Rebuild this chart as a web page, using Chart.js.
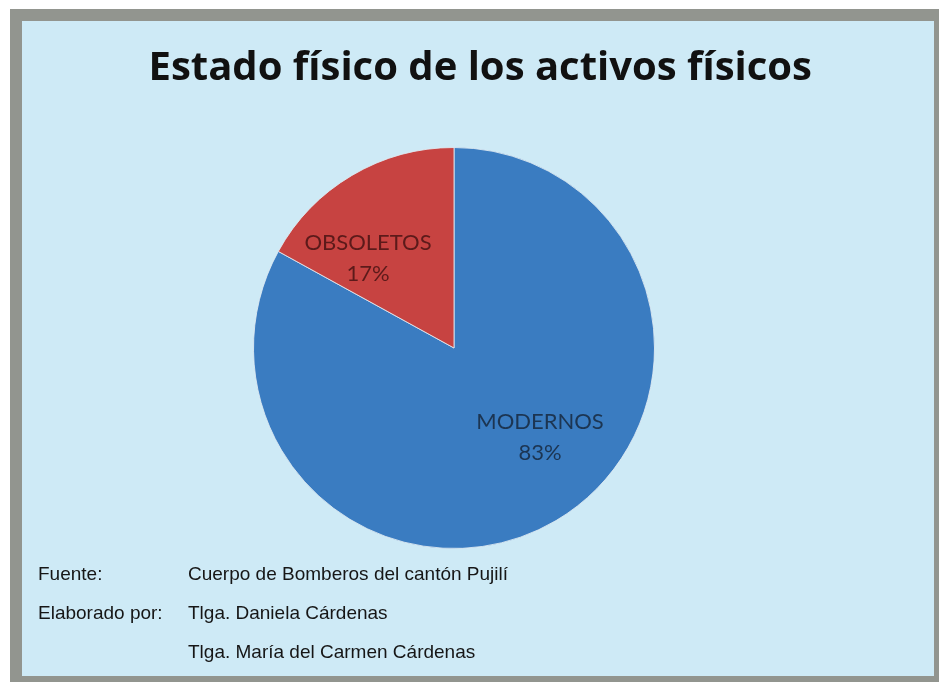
<!DOCTYPE html>
<html lang="es">
<head>
<meta charset="utf-8">
<title>Estado físico de los activos físicos</title>
<script src="https://cdn.jsdelivr.net/npm/chart.js@4.4.1/dist/chart.umd.min.js"></script>
<style>
  html, body { margin: 0; padding: 0; background: #ffffff; }
  #frame {
    position: absolute; left: 10px; top: 9px; width: 929px; height: 673px;
    background: #92958f;
  }
  #panel {
    position: absolute; left: 22px; top: 21px; width: 912px; height: 655px;
    background: #ceeaf6;
  }
  #chart { position: absolute; left: 22px; top: 21px; }
  .note {
    position: absolute; font-family: "Liberation Sans", Arial, sans-serif;
    font-size: 19px; line-height: 19px; color: #161616; white-space: nowrap;
  }
</style>
</head>
<body>
<div id="frame"></div>
<div id="panel"></div>
<canvas id="chart" width="912" height="655"></canvas>

<div class="note" style="left:38px; top:564px;">Fuente:</div>
<div class="note" style="left:188px; top:564px;">Cuerpo de Bomberos del cantón Pujilí</div>
<div class="note" style="left:38px; top:603px;">Elaborado por:</div>
<div class="note" style="left:188px; top:603px;">Tlga. Daniela Cárdenas</div>
<div class="note" style="left:188px; top:642px;">Tlga. María del Carmen Cárdenas</div>

<script>
const TITLE = "Estado físico de los activos físicos";
const categories = ["MODERNOS", "OBSOLETOS"];
const percents = [83, 17];
const sliceColors = ["#3a7cc1", "#c74341"];
const labelColors = ["#1c3552", "#5c1a1a"];

// writes "NAME\nNN%" inside each slice
const sliceLabels = {
  id: "sliceLabels",
  afterDatasetsDraw(chart, args, opts) {
    const ctx = chart.ctx;
    const arcs = chart.getDatasetMeta(0).data;
    ctx.save();
    ctx.font = opts.font;
    ctx.textAlign = "center";
    ctx.textBaseline = "middle";
    arcs.forEach((arc, i) => {
      const mid = (arc.startAngle + arc.endAngle) / 2 + opts.turn;
      const r = arc.outerRadius * opts.at;
      const x = arc.x + Math.cos(mid) * r;
      const y = arc.y + Math.sin(mid) * r;
      ctx.fillStyle = labelColors[i];
      ctx.fillText(categories[i], x, y - opts.gap / 2);
      ctx.fillText(percents[i] + "%", x, y + opts.gap / 2);
    });
    ctx.restore();
  }
};

new Chart(document.getElementById("chart"), {
  type: "pie",
  data: {
    labels: categories,
    datasets: [{
      data: percents,
      backgroundColor: sliceColors,
      borderColor: "rgba(225,235,242,0.85)",
      borderWidth: 1
    }]
  },
  options: {
    responsive: false,
    animation: false,
    // pie sits left of the title's centre, so the title is right-aligned
    layout: { padding: { left: 74, right: 122, top: 0, bottom: 127 } },
    plugins: {
      legend: { display: false },
      tooltip: { enabled: false },
      title: {
        display: true,
        text: TITLE,
        align: "end",
        color: "#111111",
        font: { family: "'Open Sans'", size: 40, weight: "bold", lineHeight: 1.2 },
        padding: { top: 24, bottom: 54 }
      },
      sliceLabels: {
        font: "22px Lato",
        at: 0.62,
        turn: -0.23,
        gap: 31
      }
    }
  },
  plugins: [sliceLabels]
});
</script>
</body>
</html>
